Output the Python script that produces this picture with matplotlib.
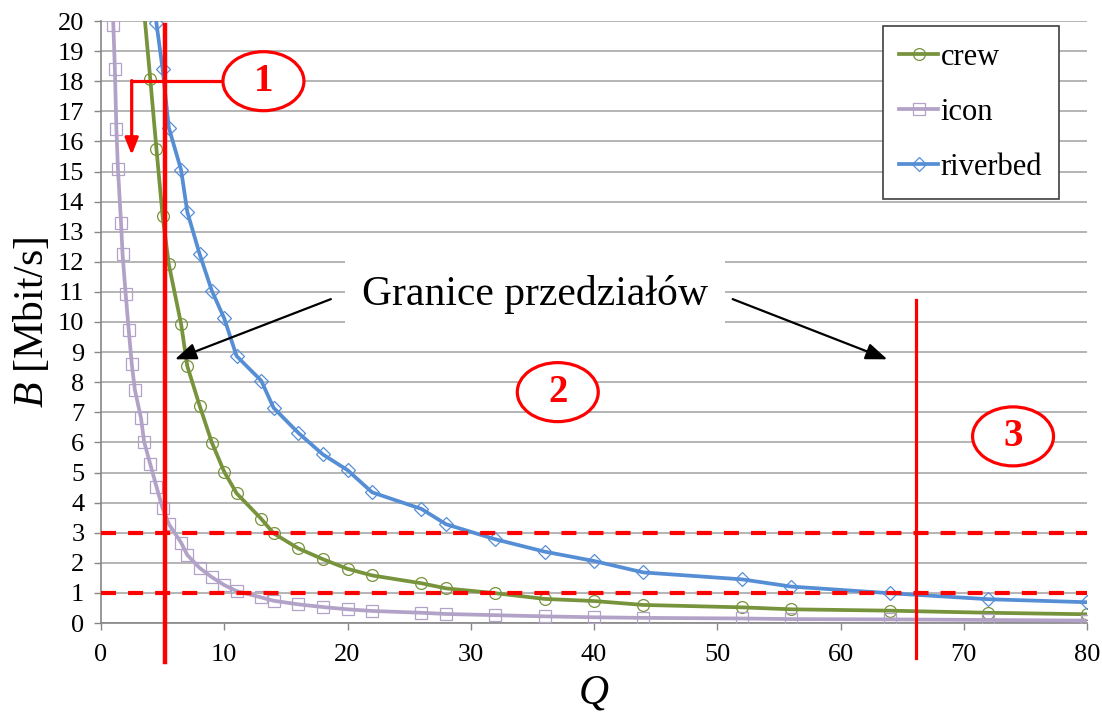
import matplotlib
matplotlib.use("Agg")
import matplotlib.pyplot as plt
from matplotlib.patches import Ellipse

plt.rcParams['font.family'] = 'Liberation Serif'
plt.rcParams['mathtext.fontset'] = 'custom'
plt.rcParams['mathtext.rm'] = 'Liberation Serif'
plt.rcParams['mathtext.it'] = 'Liberation Serif:italic'

# ---- data ----
crew_q = [3.5, 4, 4.5, 5, 5.5, 6.5, 7, 8, 9, 10, 11, 13, 14, 16, 18, 20, 22, 26, 28,
          32, 36, 40, 44, 52, 56, 64, 72, 80]
crew_b = [20.3, 18.06, 15.74, 13.52, 11.92, 9.93, 8.54, 7.22, 5.99, 5.02, 4.31, 3.46, 2.98,
          2.48, 2.12, 1.80, 1.58, 1.32, 1.15, 0.99, 0.80, 0.73, 0.60, 0.52, 0.455, 0.41,
          0.34, 0.29]

icon_q = [0.875, 1, 1.125, 1.25, 1.375, 1.625, 1.75, 2, 2.25, 2.5, 2.75, 3.25, 3.5, 4, 4.5,
          5, 5.5, 6.5, 7, 8, 9, 10, 11, 13, 14, 16, 18, 20, 22, 26, 28, 32, 36, 40, 44,
          52, 56, 64, 72, 80]
icon_b = [21.6, 19.87, 18.4, 16.4, 15.08, 13.3, 12.25, 10.94, 9.73, 8.59, 7.74, 6.8, 6.02,
          5.27, 4.53, 3.81, 3.29, 2.67, 2.26, 1.83, 1.52, 1.26, 1.06, 0.85, 0.74, 0.62,
          0.53, 0.455, 0.40, 0.34, 0.30, 0.26, 0.22, 0.19, 0.17, 0.15, 0.13, 0.12, 0.10,
          0.08]

riverbed_q = [4, 4.5, 5, 5.5, 6.5, 7, 8, 9, 10, 11, 13, 14, 16, 18, 20, 22, 26, 28, 32, 36,
              40, 44, 52, 56, 64, 72, 80]
riverbed_b = [21.8, 19.92, 18.4, 16.46, 15.05, 13.66, 12.26, 11.03, 10.12, 8.87, 8.05, 7.15,
              6.32, 5.60, 5.08, 4.34, 3.79, 3.28, 2.78, 2.37, 2.06, 1.68, 1.45, 1.21, 0.99,
              0.79, 0.69]

series_names = ['crew', 'icon', 'riverbed']
series_colors = ['#77933C', '#B3A2C7', '#558ED5']
series_markers = ['o', 's', 'D']

x_ticks = [0, 10, 20, 30, 40, 50, 60, 70, 80]
y_ticks = list(range(0, 21))

boundaries_q = [5.2, 66.1]
threshold_b = [3, 1]

# ---- figure ----
fig = plt.figure(figsize=(11.02, 7.19), dpi=100)
ax = fig.add_axes([101/1102, 1 - 623/719, 986/1102, 602/719])

ax.set_xlim(0, 80)
ax.set_ylim(0, 20)
ax.set_xticks(x_ticks)
ax.set_yticks(y_ticks)
ax.yaxis.grid(True, color='#A0A0A0', linewidth=1.1)
ax.set_axisbelow(True)
for s in ['top', 'right']:
    ax.spines[s].set_visible(False)
for s in ['left', 'bottom']:
    ax.spines[s].set_color('#868686')
    ax.spines[s].set_linewidth(1.2)
ax.tick_params(axis='both', colors='#868686', labelcolor='black', labelsize=19,
               length=5, width=1)
ax.tick_params(axis='x', pad=10)
ax.tick_params(axis='y', pad=7)
for lab in ax.get_xticklabels() + ax.get_yticklabels():
    lab.set_fontfamily('Liberation Serif')

data = [(crew_q, crew_b), (icon_q, icon_b), (riverbed_q, riverbed_b)]
ms = [8.5, 8.5, 7]
for (q, b), name, col, mk, m in zip(data, series_names, series_colors, series_markers, ms):
    ax.plot(q, b, color=col, linewidth=2.7, marker=mk, markersize=m,
            markerfacecolor='none', markeredgecolor=col, markeredgewidth=0.9,
            label=name, zorder=3)

ax.set_xlabel('$Q$', fontsize=30, labelpad=6)
ax.set_ylabel('$B$ [Mbit/s]', fontsize=30, labelpad=4)

# threshold dashed lines
for tb in threshold_b:
    ax.plot([0, 80], [tb, tb], color='red', linewidth=3.0, dashes=(3.6, 2.9), zorder=4,
            clip_on=False)

# boundaries
ax.plot([boundaries_q[0], boundaries_q[0]], [19.87, -1.3], color='red', linewidth=3.2,
        zorder=5, clip_on=False)
ax.plot([boundaries_q[1], boundaries_q[1]], [10.73, -1.16], color='red', linewidth=2.3,
        zorder=5, clip_on=False)

# bracket arrow for "1"
ax.plot([9.9, 2.49], [18.02, 18.02], color='red', linewidth=2.3, zorder=5,
        solid_capstyle='projecting')
ax.annotate('', xy=(2.49, 15.55), xytext=(2.49, 18.02),
            arrowprops=dict(arrowstyle='-|>,head_length=1.0,head_width=0.4',
                            color='red', lw=2.3, shrinkA=0, shrinkB=0), zorder=5)

# ellipses with numbers
for (cq, cb, txt) in [(13.18, 18.0, '1'), (37.06, 7.67, '2'), (74.0, 6.2, '3')]:
    ax.add_patch(Ellipse((cq, cb), width=6.57, height=1.96, facecolor='white',
                         edgecolor='red', linewidth=2.3, zorder=6))
    ax.text(cq, cb, txt, color='red', fontsize=28, fontweight='bold', ha='center',
            va='center', zorder=7)

# label and arrows
ax.text(35.2, 10.9, 'Granice przedziałów', fontsize=30, ha='center', va='center',
        zorder=6, bbox=dict(boxstyle='square,pad=0.4', facecolor='white', edgecolor='none'))
ax.annotate('', xy=(6.0, 8.76), xytext=(18.65, 10.76),
            arrowprops=dict(arrowstyle='-|>,head_length=1.3,head_width=0.5',
                            color='black', lw=1.6, shrinkA=0, shrinkB=0), zorder=7)
ax.annotate('', xy=(63.8, 8.76), xytext=(51.25, 10.76),
            arrowprops=dict(arrowstyle='-|>,head_length=1.3,head_width=0.5',
                            color='black', lw=1.6, shrinkA=0, shrinkB=0), zorder=7)

leg = ax.legend(loc='upper right', bbox_to_anchor=(0.9716, 0.9917), borderaxespad=0,
                fontsize=22, handlelength=1.25, handletextpad=0.1, labelspacing=0.85,
                borderpad=0.55, fancybox=False, framealpha=1, edgecolor='#404040')
leg.get_frame().set_linewidth(1.2)
leg.set_zorder(10)

fig.savefig('out.png', dpi=100)
